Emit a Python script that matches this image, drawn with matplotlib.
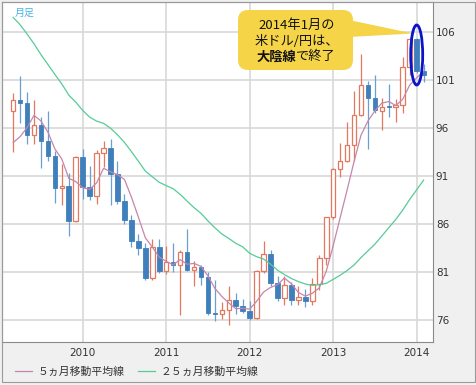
import numpy as np
import pandas as pd
import matplotlib
matplotlib.use("Agg")
import matplotlib.pyplot as plt
from matplotlib.patches import FancyBboxPatch, Polygon, Ellipse, Rectangle
from matplotlib.transforms import IdentityTransform

plt.rcParams['font.family'] = ['Noto Sans CJK JP', 'DejaVu Sans']

# monthly USD/JPY, Mar 2009 - Feb 2014
months = pd.period_range('2009-03', '2014-02', freq='M')
opens = [97.8, 98.9, 98.6, 95.3, 96.3, 94.7, 93.1, 89.8, 90.0, 86.3,
         93.0, 89.9, 88.9, 93.4, 93.9, 91.2, 88.4, 86.4, 84.2, 83.5,
         80.4, 83.6, 81.1, 82.0, 81.7, 83.1, 81.2, 81.5, 80.5, 76.7,
         76.6, 77.0, 78.1, 77.5, 76.9, 76.2, 81.1, 82.9, 79.9, 78.3,
         79.7, 78.1, 78.4, 77.95, 79.8, 82.5, 86.75, 91.7, 92.55, 94.2,
         97.4, 100.5, 99.2, 97.8, 98.25, 98.2, 98.4, 102.4, 105.3, 102.0]
highs = [99.7, 101.4, 99.8, 98.9, 97.2, 97.8, 93.6, 92.3, 91.3, 93.1,
         93.8, 92.1, 93.7, 94.7, 94.9, 92.6, 89.1, 86.9, 85.0, 84.0,
         84.4, 84.5, 83.7, 84.0, 83.3, 85.5, 82.2, 81.7, 81.0, 80.2,
         77.9, 79.5, 78.8, 78.2, 78.0, 81.2, 84.2, 83.3, 80.6, 80.6,
         80.0, 79.6, 79.2, 80.4, 82.8, 86.6, 91.8, 94.5, 96.7, 99.9,
         103.7, 100.9, 101.5, 99.2, 100.6, 99.0, 103.4, 105.4, 105.4, 102.7]
lows = [93.5, 96.5, 94.4, 94.4, 91.8, 92.6, 88.2, 88.0, 84.8, 86.2,
        88.6, 88.5, 88.1, 92.0, 88.0, 88.1, 86.0, 83.6, 82.8, 80.2,
        80.2, 80.9, 80.8, 81.0, 76.5, 81.1, 79.6, 79.7, 76.5, 75.9,
        76.1, 75.5, 76.6, 76.7, 76.0, 76.1, 80.9, 79.6, 78.0, 77.6,
        77.6, 77.6, 77.4, 77.6, 79.1, 81.7, 86.5, 90.9, 92.5, 92.6,
        97.3, 93.8, 97.6, 95.8, 97.2, 96.6, 97.6, 101.6, 101.8, 100.8]
closes = [98.9, 98.6, 95.3, 96.3, 94.7, 93.1, 89.8, 90.0, 86.3, 93.0,
          89.9, 88.9, 93.4, 93.9, 91.2, 88.4, 86.4, 84.2, 83.5, 80.4,
          83.6, 81.1, 82.0, 81.7, 83.1, 81.2, 81.5, 80.5, 76.7, 76.6,
          77.0, 78.1, 77.5, 76.9, 76.2, 81.1, 82.9, 79.9, 78.3, 79.7,
          78.1, 78.4, 77.95, 79.8, 82.5, 86.75, 91.7, 92.55, 94.2, 97.4,
          100.5, 99.1, 97.9, 98.2, 98.2, 98.4, 102.4, 105.3, 102.0, 101.5]
# closes Mar 2007 - Feb 2009, needed for the moving averages
prior_closes = [117.8, 119.5, 121.7, 123.2, 118.6, 115.8, 114.9, 115.3, 111.2, 111.7,
                106.4, 103.7, 99.7, 103.9, 105.5, 106.2, 108.1, 108.8, 106.0, 98.5,
                95.5, 90.6, 89.9, 97.6]
year_ticks = ['2010', '2011', '2012', '2013', '2014']
price_ticks = [76, 81, 86, 91, 96, 101, 106]

o = np.array(opens); h = np.array(highs); l = np.array(lows); c = np.array(closes)
x = np.arange(len(months))
all_closes = pd.Series(prior_closes + closes)
ma5 = all_closes.rolling(5).mean().values[-len(closes):]
ma25 = all_closes.rolling(25).mean().values[-len(closes):]

W, H = 476, 385
fig = plt.figure(figsize=(W / 100, H / 100), dpi=100, facecolor='#f0f0f0')
ax = fig.add_axes([2 / W, 43 / H, 431 / W, 340 / H])
ax.set_facecolor('white')

up_col = '#e4785f'
dn_col = '#3f7fbb'
up = c >= o
body_lo = np.minimum(o, c)
body_h = np.maximum(np.abs(c - o), 0.08)
ax.vlines(x[up], l[up], h[up], color=up_col, lw=0.9, zorder=2)
ax.vlines(x[~up], l[~up], h[~up], color='#6a9fd0', lw=0.9, zorder=2)
ax.bar(x[up], body_h[up], 0.66, bottom=body_lo[up], facecolor='white',
       edgecolor=up_col, lw=0.9, zorder=3)
ax.bar(x[~up], body_h[~up], 0.66, bottom=body_lo[~up], facecolor=dn_col,
       edgecolor=dn_col, lw=0.6, zorder=3)

l5, = ax.plot(x, ma5, color='#c586ab', lw=0.9, zorder=4, label='５ヵ月移動平均線')
l25, = ax.plot(x, ma25, color='#55cc96', lw=0.9, zorder=4, label='２５ヵ月移動平均線')

ax.set_xlim(-1.6, 60.35)
ax.set_ylim(73.71, 109.16)
jan_idx = [i for i, m in enumerate(months) if m.month == 1]
ax.set_xticks(jan_idx)
ax.set_xticklabels(year_ticks)
ax.set_yticks(price_ticks)
ax.yaxis.tick_right()
ax.tick_params(axis='both', length=0, labelsize=7.5, labelcolor='#333333',
               labelfontfamily='DejaVu Sans')
ax.tick_params(axis='x', pad=4)
ax.tick_params(axis='y', pad=2)
ax.grid(color='#d8d8d8', lw=1.2, zorder=0)
ax.set_axisbelow(True)
for s in ax.spines.values():
    s.set_color('#8a8a8a')
    s.set_linewidth(0.8)

ax.text(13 / 431, 1 - 11 / 340, '月足', transform=ax.transAxes, color='#45b5e8',
        fontsize=7.2, va='center', ha='left')

fig.legend(handles=[l5, l25], loc='center left', bbox_to_anchor=(15 / W, 1 - 371.7 / H),
           frameon=False, fontsize=7.8, ncol=2, handlelength=1.57, handletextpad=0.55,
           columnspacing=1.2, borderpad=0, borderaxespad=0, labelcolor='#333333')

# outer frame
fig.patches.append(Rectangle((1.5, H - 382), 473.5, 380.5, transform=IdentityTransform(),
                             fill=False, edgecolor='#9a9a9a', lw=0.8))

# callout
yellow = '#f5d547'
fig.patches.append(Polygon([(349, H - 20), (413, H - 33.5), (349, H - 37)], closed=True,
                           transform=IdentityTransform(), facecolor=yellow, edgecolor='none'))
fig.patches.append(FancyBboxPatch((238, H - 70), 115, 60,
                                  boxstyle='round,pad=0,rounding_size=10',
                                  transform=IdentityTransform(), facecolor=yellow,
                                  edgecolor='none'))
fig.patches.append(Ellipse((416.7, H - 55), 12, 60, transform=IdentityTransform(),
                           fill=False, edgecolor='#0a14c8', lw=2))

def fx(px):
    return px / W

def fy(py):
    return 1 - py / H

fig.text(fx(296.5), fy(25), '2014年1月の', ha='center', va='center', fontsize=9.5, color='#111111')
fig.text(fx(296.5), fy(41.5), '米ドル/円は、', ha='center', va='center', fontsize=9.5, color='#111111')
fig.text(fx(296), fy(56.5), '大陰線', ha='right', va='center', fontsize=9.5,
         fontweight='bold', color='#111111')
fig.text(fx(296), fy(56.5), 'で終了', ha='left', va='center', fontsize=9.5, color='#111111')

fig.savefig('out.png', dpi=100, facecolor=fig.get_facecolor())
